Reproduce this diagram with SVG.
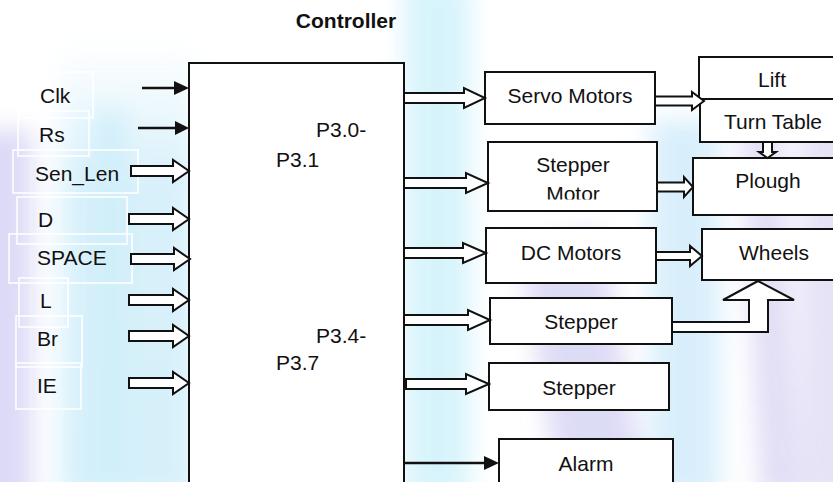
<svg xmlns="http://www.w3.org/2000/svg" width="833" height="482" viewBox="0 0 833 482">
<defs>
<style>
.box{fill:#fff;stroke:#111;stroke-width:2}
.blk{fill:#fff;stroke:#111;stroke-width:2;stroke-linejoin:miter}
.ln{stroke:#111;stroke-width:2.5;fill:none}
.hd{fill:#111}
.t{font-family:"Liberation Sans",Arial,sans-serif;font-size:21px;fill:#111}
.tc{text-anchor:middle}
.lb{fill:none;stroke:#fff;stroke-width:1.5}
</style>
<filter id="blur" x="-50%" y="-50%" width="200%" height="200%"><feGaussianBlur stdDeviation="12"/></filter>
<linearGradient id="fadeUp" x1="0" y1="0" x2="0" y2="1">
<stop offset="0" stop-color="#d2eefa" stop-opacity="0"/>
<stop offset="0.3" stop-color="#d2eefa" stop-opacity="1"/>
<stop offset="1" stop-color="#cfeefa" stop-opacity="1"/>
</linearGradient>
<clipPath id="smclip"><rect x="488" y="142" width="169" height="57.5"/></clipPath>
</defs>
<rect width="833" height="482" fill="#fff"/>
<g id="background" filter="url(#blur)" opacity="0.85">
<rect x="-30" y="130" width="62" height="380" fill="#d6d4f6"/>
<rect x="60" y="40" width="135" height="460" fill="url(#fadeUp)"/>
<rect x="95" y="110" width="30" height="380" fill="#c8ecf9"/>
<rect x="404" y="-20" width="66" height="520" fill="#d0f2fb"/>
<polygon points="520,250 600,230 650,500 560,500" fill="#d8d6f4"/>
<rect x="650" y="120" width="70" height="380" fill="#d2ecfa"/>
<polygon points="740,100 780,100 800,500 760,500" fill="#dcd8f4"/>
<rect x="800" y="80" width="60" height="420" fill="#e2def6"/>
</g>
<g id="label-frames">
<rect class="lb" x="20" y="72" width="73" height="46"/>
<rect class="lb" x="18" y="111" width="71" height="45"/>
<rect class="lb" x="13" y="150" width="125" height="43"/>
<rect class="lb" x="17" y="197" width="110" height="47"/>
<rect class="lb" x="9" y="234" width="123" height="49"/>
<rect class="lb" x="19" y="278" width="49" height="49"/>
<rect class="lb" x="16" y="316" width="66" height="51"/>
<rect class="lb" x="16" y="363" width="65" height="46"/>
</g>
<text class="t" x="346" y="28" text-anchor="middle" font-weight="bold">Controller</text>
<g id="controller">
<rect class="box" x="189" y="63" width="215" height="440"/>
<text class="t" x="316" y="137">P3.0-</text>
<text class="t" x="276" y="167">P3.1</text>
<text class="t" x="316" y="343">P3.4-</text>
<text class="t" x="276" y="370">P3.7</text>
</g>
<g id="in-clk"><text class="t" x="40" y="103">Clk</text></g>
<g id="in-rs"><text class="t" x="39" y="142">Rs</text></g>
<g id="in-senlen"><text class="t" x="35" y="181">Sen_Len</text></g>
<g id="in-d"><text class="t" x="38" y="227">D</text></g>
<g id="in-space"><text class="t" x="37" y="265">SPACE</text></g>
<g id="in-l"><text class="t" x="40" y="308">L</text></g>
<g id="in-br"><text class="t" x="37" y="346">Br</text></g>
<g id="in-ie"><text class="t" x="37" y="393">IE</text></g>
<g id="servo"><rect class="box" x="485" y="72" width="170" height="52"/><text class="t tc" x="570" y="103">Servo Motors</text></g>
<g id="stepper-motor"><rect class="box" x="488" y="142" width="169" height="69"/><text class="t tc" x="573" y="172">Stepper</text><text class="t tc" x="573" y="201" clip-path="url(#smclip)">Motor</text></g>
<g id="dc"><rect class="box" x="486" y="228" width="170" height="55"/><text class="t tc" x="571" y="260">DC Motors</text></g>
<g id="stepper1"><rect class="box" x="490" y="298" width="182" height="46"/><text class="t tc" x="581" y="329">Stepper</text></g>
<g id="stepper2"><rect class="box" x="489" y="363" width="180" height="47"/><text class="t tc" x="579" y="395">Stepper</text></g>
<g id="alarm"><rect class="box" x="499" y="439" width="174" height="60"/><text class="t tc" x="586" y="471">Alarm</text></g>
<g id="lift"><rect class="box" x="699" y="57" width="150" height="42"/><text class="t tc" x="772" y="87">Lift</text></g>
<g id="turntable"><rect class="box" x="700" y="99" width="150" height="43"/><text class="t tc" x="773" y="129">Turn Table</text></g>
<g id="plough"><rect class="box" x="693" y="158" width="160" height="57"/><text class="t tc" x="768" y="188">Plough</text></g>
<g id="wheels"><rect class="box" x="702" y="229" width="150" height="51"/><text class="t tc" x="774" y="260">Wheels</text></g>
<g id="connectors">
<line class="ln" x1="142" y1="88" x2="176" y2="88"/><polygon class="hd" points="174,81 189,88 174,95"/>
<line class="ln" x1="138" y1="128" x2="177" y2="128"/><polygon class="hd" points="175,121 189,128 175,135"/>
<polygon class="blk" points="131,166 173,166 173,160 189,171 173,182 173,176 131,176"/>
<polygon class="blk" points="129,214 173,214 173,208 189,219 173,230 173,224 129,224"/>
<polygon class="blk" points="131,254 174,254 174,248 190,259 174,270 174,264 131,264"/>
<polygon class="blk" points="129,295 173,295 173,289 189,300 173,311 173,305 129,305"/>
<polygon class="blk" points="129,331 173,331 173,325 189,336 173,347 173,341 129,341"/>
<polygon class="blk" points="129,378 173,378 173,372 189,383 173,394 173,388 129,388"/>
<polygon class="blk" points="404,93 464,93 464,88 485,98 464,108 464,103 404,103"/>
<polygon class="blk" points="404,178 466,178 466,173 488,183 466,193 466,188 404,188"/>
<polygon class="blk" points="404,248 463,248 463,243 486,253 463,263 463,258 404,258"/>
<polygon class="blk" points="404,315 468,315 468,310 490,320 468,330 468,325 404,325"/>
<polygon class="blk" points="406,379 466,379 466,374 489,384 466,394 466,389 406,389"/>
<line class="ln" x1="404" y1="463" x2="486" y2="463"/><polygon class="hd" points="484,456 499,463 484,470"/>
<polygon class="blk" points="655,96.5 692,96.5 692,92 704,101 692,110 692,105.5 655,105.5"/>
<polygon class="blk" points="657,182.5 684,182.5 684,177 693,187 684,197 684,191.5 657,191.5"/>
<polygon class="blk" points="656,252 690,252 690,246 702,256 690,266 690,260 656,260"/>
<polygon class="blk" points="763,142 772,142 772,152 776,152 767.5,158 759,152 763,152"/>
<polygon class="blk" points="672,322 749,322 749,300 723,300 758,281 794,300 768,300 768,332 672,332"/>
</g>
</svg>
